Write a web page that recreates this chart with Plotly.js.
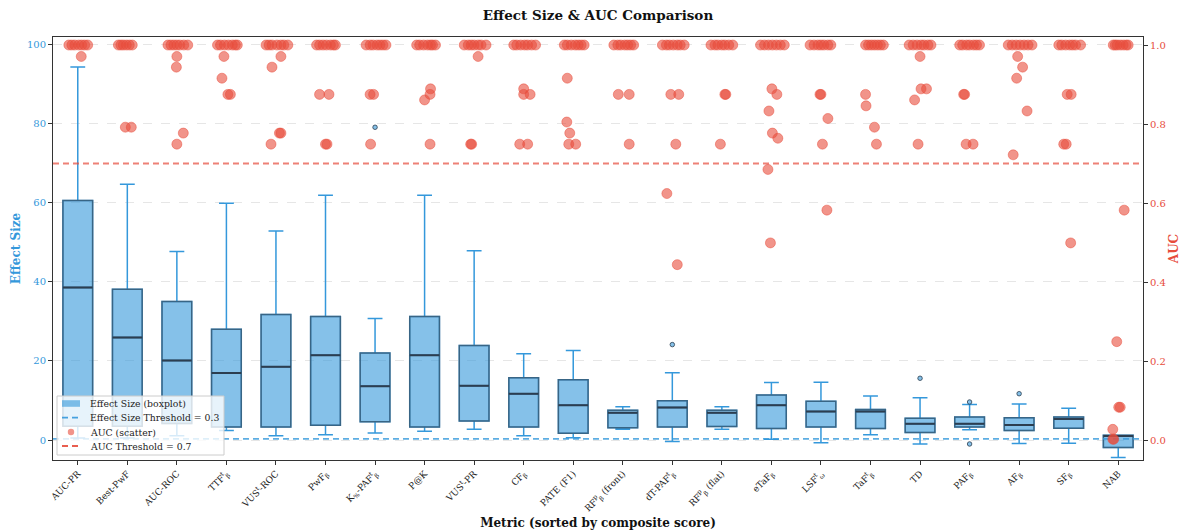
<!DOCTYPE html>
<html>
<head>
<meta charset="utf-8">
<script src="https://cdn.plot.ly/plotly-3.0.1.min.js"></script>
<style>html,body{margin:0;padding:0;background:#fff;}#chart{width:1184px;height:530px;}</style>
</head>
<body>
<div id="chart"></div>
<script>
// ---- categories (x tick labels) ----
const categories = ['AUC-PR','Best-PwF','AUC-ROC','TTF<sup>t</sup><sub>β</sub>','VUS<sup>t</sup>-ROC','PwF<sub>β</sub>',
  'K<sub>%</sub>-PAF<sup>t</sup><sub>β</sub>','P@K','VUS<sup>t</sup>-PR','CF<sub>β</sub>','PATE (F1)',
  'RF<sup>p</sup><sub>β</sub> (front)','dT-PAF<sup>t</sup><sub>β</sub>','RF<sup>p</sup><sub>β</sub> (flat)','eTaF<sub>β</sub>',
  'LSF<sup>t</sup><sub>ω</sub>','TaF<sup>t</sup><sub>β</sub>','TD','PAF<sub>β</sub>','AF<sub>β</sub>','SF<sub>β</sub>','NAB'];

// ---- effect size box statistics ----
const esLowerFence = [0.5, 0.5, 1.1, 2.4, 1.1, 1.3, 1.8, 2.2, 2.7, 1.1, 0.6, 2.7, -0.4, 2.7, 0.2, -0.7, 1.3, -1.0, 2.6, -0.9, -0.8, -4.4];
const esQ1         = [3.5, 3.5, 4.2, 3.3, 3.3, 3.7, 4.6, 3.3, 4.8, 3.3, 1.7, 3.1, 3.3, 3.4, 2.9, 3.3, 2.9, 1.9, 3.3, 2.4, 3.0, -1.9];
const esMedian     = [38.5, 25.9, 20.1, 16.9, 18.5, 21.4, 13.6, 21.4, 13.7, 11.7, 8.8, 6.9, 8.2, 6.9, 8.8, 7.2, 7.2, 4.1, 4.1, 3.8, 5.3, 1.0];
const esQ3         = [60.5, 38.1, 35.0, 28.0, 31.7, 31.2, 22.0, 31.2, 23.9, 15.7, 15.2, 7.5, 9.9, 7.5, 11.4, 9.8, 7.7, 5.5, 5.8, 5.6, 5.8, 1.2];
const esUpperFence = [94.2, 64.6, 47.6, 59.8, 52.8, 61.8, 30.7, 61.8, 47.8, 21.8, 22.6, 8.4, 17.0, 8.4, 14.5, 14.6, 11.1, 10.7, 9.0, 9.1, 8.0, 1.2];

// ---- effect size outliers ----
const esOutlierCat = [6, 12, 17, 18, 18, 19];
const esOutlierVal = [79.0, 24.1, 15.6, 9.6, -1.0, 11.7];

// ---- AUC values per metric, with horizontal jitter ----
const aucValues = [
  [1,1,1,1,1,1,1, 0.971],
  [1,1,1,1,1,1, 0.792,0.792],
  [1,1,1,1,1,1,1, 0.971,0.944,0.777,0.749],
  [1,1,1,1,1,1,1, 0.971,0.916,0.875,0.875],
  [1,1,1,1,1,1,1, 0.971,0.944,0.777,0.777,0.749],
  [1,1,1,1,1,1,1, 0.875,0.875,0.749,0.749],
  [1,1,1,1,1,1,1, 0.875,0.875,0.749],
  [1,1,1,1,1,1,1, 0.889,0.875,0.861,0.749],
  [1,1,1,1,1,1,1, 0.971,0.749,0.749],
  [1,1,1,1,1,1,1, 0.889,0.875,0.875,0.749,0.749],
  [1,1,1,1,1,1,1, 0.916,0.805,0.777,0.749,0.749],
  [1,1,1,1,1,1,1, 0.875,0.875,0.749],
  [1,1,1,1,1,1,1, 0.875,0.875,0.749,0.624,0.444],
  [1,1,1,1,1,1,1, 0.875,0.875,0.749],
  [1,1,1,1,1,1,1, 0.889,0.875,0.833,0.777,0.764,0.685,0.499],
  [1,1,1,1,1,1,1, 0.875,0.875,0.814,0.749,0.582],
  [1,1,1,1,1,1,1, 0.875,0.846,0.792,0.749],
  [1,1,1,1,1,1,1, 0.971,0.889,0.889,0.861,0.749],
  [1,1,1,1,1,1,1, 0.875,0.875,0.749,0.749],
  [1,1,1,1,1,1,1, 0.971,0.944,0.916,0.833,0.722],
  [1,1,1,1,1,1,1, 0.875,0.875,0.749,0.749,0.499],
  [1,1,1,1,1,1,1, 0.582,0.249,0.083,0.083,0.027,0.002,0.002]
];
const aucJitter = [
  [-0.18,-0.12,-0.06,0.02,0.08,0.14,0.20, 0.07],
  [-0.18,-0.13,-0.08,-0.02,0.04,0.10, -0.04,0.08],
  [-0.18,-0.12,-0.06,0.00,0.06,0.14,0.22, 0.00,-0.01,0.13,0.00],
  [-0.18,-0.12,-0.04,0.04,0.12,0.18,0.22, -0.05,-0.09,0.03,0.08],
  [-0.20,-0.14,-0.08,0.02,0.10,0.16,0.24, 0.10,-0.08,0.07,0.10,-0.10],
  [-0.18,-0.12,-0.05,0.02,0.10,0.16,0.20, -0.12,0.07,0.00,0.03],
  [-0.18,-0.10,-0.04,0.04,0.10,0.16,0.22, -0.10,-0.03,-0.09],
  [-0.16,-0.10,-0.02,0.06,0.12,0.16,0.22, 0.12,0.11,0.00,0.11],
  [-0.20,-0.12,-0.06,0.00,0.08,0.14,0.24, 0.08,-0.07,-0.05],
  [-0.20,-0.14,-0.06,0.02,0.08,0.16,0.24, 0.00,0.00,0.13,-0.08,0.08],
  [-0.18,-0.12,-0.04,0.04,0.10,0.16,0.22, -0.12,-0.13,-0.07,-0.09,0.05],
  [-0.18,-0.10,-0.04,0.04,0.10,0.16,0.22, -0.09,0.13,0.13],
  [-0.20,-0.12,-0.06,0.02,0.10,0.16,0.24, -0.03,0.13,0.07,-0.11,0.10],
  [-0.22,-0.14,-0.08,0.00,0.06,0.14,0.22, 0.06,0.08,-0.03],
  [-0.22,-0.14,-0.06,0.02,0.10,0.18,0.26, 0.01,0.11,-0.05,0.02,0.13,-0.07,-0.02],
  [-0.22,-0.14,-0.06,0.00,0.06,0.14,0.20, -0.02,0.00,0.14,0.03,0.12],
  [-0.10,-0.04,0.02,0.08,0.14,0.20,0.26, -0.10,-0.09,0.08,0.12],
  [-0.22,-0.14,-0.06,0.02,0.08,0.16,0.22, 0.00,0.02,0.13,-0.11,-0.04],
  [-0.20,-0.14,-0.06,0.00,0.08,0.14,0.20, -0.12,-0.10,-0.07,0.07],
  [-0.22,-0.14,-0.06,0.02,0.10,0.18,0.26, -0.03,0.07,-0.05,0.16,-0.12],
  [-0.20,-0.14,-0.06,0.02,0.08,0.14,0.24, -0.03,0.05,-0.10,-0.05,0.04],
  [-0.10,-0.06,-0.02,0.04,0.10,0.16,0.20, 0.12,-0.03,0.01,0.04,-0.11,-0.11,-0.09]
];

const esThreshold = 0.3;
const aucThreshold = 0.7;
const legendLabels = ['Effect Size (boxplot)', 'Effect Size Threshold = ' + esThreshold, 'AUC (scatter)', 'AUC Threshold = ' + aucThreshold];

// ---- build traces ----
const pos = categories.map((_, i) => i);
const xSpan = [-0.5, categories.length - 0.5];
const FONT = 'DejaVu Serif';
const BLUE = '#3498db', RED = '#e74c3c', DARK = '#2c3e50';
const boxFill = 'rgba(52,152,219,0.6)';

const aucX = [], aucY = [];
aucValues.forEach((vals, i) => vals.forEach((v, k) => { aucX.push(i + aucJitter[i][k]); aucY.push(v); }));

const traces = [
  { type: 'box', name: legendLabels[0], x: pos, q1: esQ1, median: esMedian, q3: esQ3,
    lowerfence: esLowerFence, upperfence: esUpperFence, boxpoints: false, width: 0.6, whiskerwidth: 0.5,
    fillcolor: boxFill, line: { color: BLUE, width: 1.5 }, hoverinfo: 'skip' },
  { type: 'box', x: pos, q1: esQ1, median: esMedian, q3: esQ3,
    lowerfence: esQ1, upperfence: esQ3, boxpoints: false, width: 0.6, whiskerwidth: 0,
    fillcolor: 'rgba(0,0,0,0)', line: { color: 'rgba(60,70,80,0.62)', width: 1.5 }, hoverinfo: 'skip' },
  { type: 'box', x: pos, q1: esMedian, median: esMedian, q3: esMedian,
    lowerfence: esMedian, upperfence: esMedian, boxpoints: false, width: 0.6, whiskerwidth: 0,
    fillcolor: 'rgba(0,0,0,0)', line: { color: DARK, width: 2 }, hoverinfo: 'skip' },
  { type: 'scatter', mode: 'markers', x: esOutlierCat, y: esOutlierVal,
    marker: { size: 4.5, color: 'rgba(52,152,219,0.6)', line: { color: 'rgba(44,62,80,0.8)', width: 1 } }, hoverinfo: 'skip' },
  { type: 'scatter', mode: 'lines', name: legendLabels[1], x: xSpan, y: [esThreshold, esThreshold],
    line: { color: 'rgba(52,152,219,0.8)', width: 1.8, dash: '6px,4px' }, hoverinfo: 'skip' },
  { type: 'scatter', mode: 'markers', name: legendLabels[2], x: aucX, y: aucY, yaxis: 'y2',
    marker: { size: 10, color: 'rgba(231,76,60,0.6)', line: { color: 'rgba(231,76,60,0.6)', width: 0.8 } }, hoverinfo: 'skip' },
  { type: 'scatter', mode: 'lines', name: legendLabels[3], x: xSpan, y: [aucThreshold, aucThreshold], yaxis: 'y2',
    line: { color: 'rgba(231,76,60,0.7)', width: 1.8, dash: '6px,4px' }, hoverinfo: 'skip' }
];

// ---- hand-drawn legend (matplotlib-style compact box) ----
const M = { l: 53, r: 41, t: 37, b: 70 };
const W = 1184, H = 530;
const PW = W - M.l - M.r, PH = H - M.t - M.b;
const px = x => (x - M.l) / PW;
const py = y => (H - M.b - y) / PH;
const legX0 = 57, legX1 = 224, legY0 = 396, legY1 = 455;
const rowY = [403.5, 417.7, 432, 446];
const symX0 = 62, symX1 = 80, textX = 87.5;
const shapes = [
  { type: 'rect', xref: 'paper', yref: 'paper', x0: px(legX0), x1: px(legX1), y0: py(legY1), y1: py(legY0),
    fillcolor: 'rgba(255,255,255,0.8)', line: { color: '#cccccc', width: 1 }, layer: 'above' },
  { type: 'rect', xref: 'paper', yref: 'paper', x0: px(symX0), x1: px(symX1), y0: py(rowY[0] + 3.3), y1: py(rowY[0] - 3.3),
    fillcolor: boxFill, line: { width: 0 }, layer: 'above' },
  { type: 'line', xref: 'paper', yref: 'paper', x0: px(symX0), x1: px(symX1), y0: py(rowY[1]), y1: py(rowY[1]),
    line: { color: 'rgba(52,152,219,0.9)', width: 1.8, dash: '6px,4px' }, layer: 'above' },
  { type: 'circle', xref: 'paper', yref: 'paper', x0: px(71 - 3.2), x1: px(71 + 3.2), y0: py(rowY[2] + 3.2), y1: py(rowY[2] - 3.2),
    fillcolor: 'rgba(231,76,60,0.6)', line: { width: 0 }, layer: 'above' },
  { type: 'line', xref: 'paper', yref: 'paper', x0: px(symX0), x1: px(symX1), y0: py(rowY[3]), y1: py(rowY[3]),
    line: { color: 'rgba(231,76,60,0.9)', width: 1.8, dash: '6px,4px' }, layer: 'above' }
];
const annotations = legendLabels.map((t, i) => ({
  xref: 'paper', yref: 'paper', x: px(textX), y: py(rowY[i]), xanchor: 'left', yanchor: 'middle',
  text: t, showarrow: false, font: { family: FONT, size: 9.3, color: '#222' }
}));

const layout = {
  width: W, height: H,
  margin: M,
  paper_bgcolor: '#fff', plot_bgcolor: '#fff',
  font: { family: FONT, color: '#222' },
  showlegend: false,
  shapes: shapes, annotations: annotations,
  title: { text: '<b>Effect Size & AUC Comparison</b>', font: { family: FONT, size: 13.5, color: '#111' },
           x: 0.5, xref: 'paper', y: 1 - 15 / 530, yanchor: 'middle' },
  xaxis: {
    range: xSpan, tickvals: pos, ticktext: categories, tickangle: -45,
    tickfont: { family: FONT, size: 9, color: '#222' },
    ticks: 'outside', ticklen: 4, tickcolor: '#333',
    showline: true, linecolor: '#333', linewidth: 1, mirror: true,
    showgrid: false, zeroline: false, automargin: false,
    title: { text: '<b>Metric (sorted by composite score)</b>', font: { family: FONT, size: 12, color: '#111' }, standoff: 8 }
  },
  yaxis: {
    range: [-5.05, 101.8], tickvals: [0, 20, 40, 60, 80, 100],
    tickfont: { family: FONT, size: 10, color: BLUE },
    ticks: 'outside', ticklen: 4, tickcolor: '#333',
    showline: true, linecolor: '#333', linewidth: 1,
    showgrid: true, gridcolor: '#e6e6e6', griddash: 'dash', gridwidth: 1, zeroline: false, automargin: false,
    title: { text: '<b>Effect Size</b>', font: { family: FONT, size: 12, color: BLUE }, standoff: 3 }
  },
  yaxis2: {
    overlaying: 'y', side: 'right', range: [-0.0506, 1.0203],
    tickvals: [0, 0.2, 0.4, 0.6, 0.8, 1.0], tickformat: '.1f',
    tickfont: { family: FONT, size: 10, color: RED },
    ticks: 'outside', ticklen: 4, tickcolor: '#333',
    showline: true, linecolor: '#333', linewidth: 1,
    showgrid: false, zeroline: false, automargin: false,
    title: { text: '<b>AUC</b>', font: { family: FONT, size: 12, color: RED }, standoff: 4 }
  },
  boxmode: 'overlay'
};

Plotly.newPlot('chart', traces, layout, { staticPlot: true, displayModeBar: false });
</script>
</body>
</html>
